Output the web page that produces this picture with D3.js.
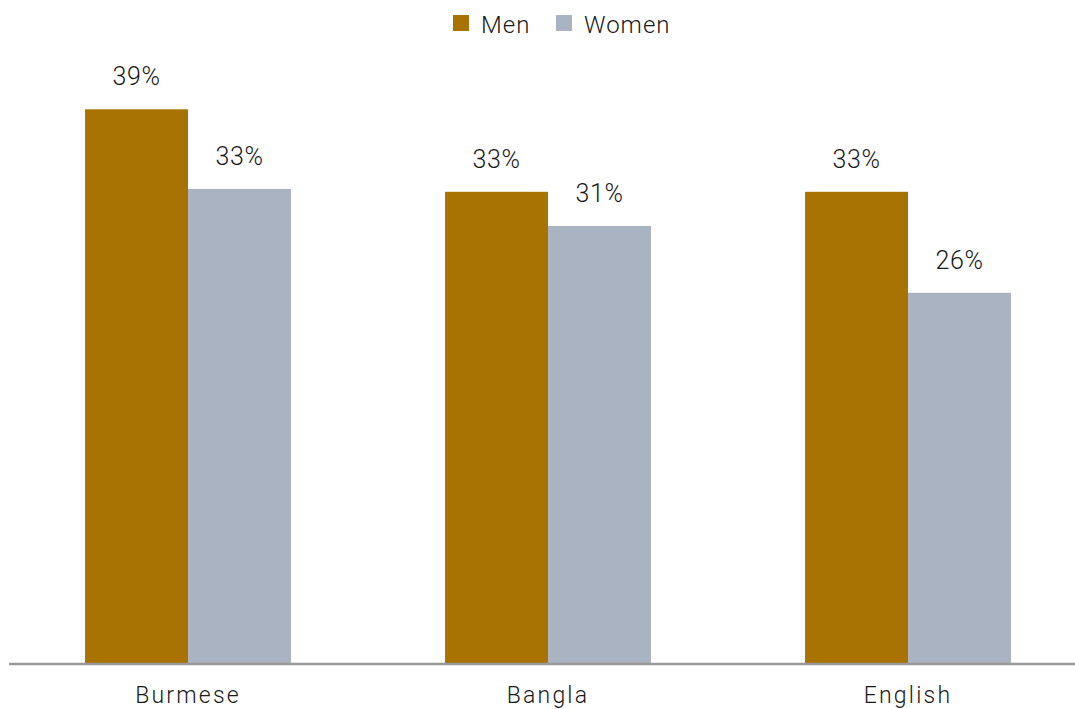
<!DOCTYPE html>
<html>
<head>
<meta charset="utf-8">
<script src="https://cdn.jsdelivr.net/npm/d3@7"></script>
<style>
  html, body { margin: 0; padding: 0; background: #ffffff; }
  svg { display: block; }
</style>
</head>
<body>
<div id="chart"></div>
<script>
// Share of respondents by language, split by gender
const categories = ["Burmese", "Bangla", "English"];
const seriesNames = ["Men", "Women"];
const menValues = [39.0, 33.2, 33.2];
const womenValues = [33.4, 30.8, 26.1];
const seriesColors = ["#a97304", "#aab3c2"];

const width = 1075, height = 709;
const baseline = 664;

const svg = d3.select("#chart").append("svg")
  .attr("width", width)
  .attr("height", height);

const rows = categories.map((c, i) => ({ category: c, values: [menValues[i], womenValues[i]] }));

const x0 = d3.scaleBand()
  .domain(categories)
  .range([8, 1088])
  .paddingInner(0.428)
  .paddingOuter(0.214);

const x1 = d3.scaleBand()
  .domain(seriesNames)
  .range([0, x0.bandwidth()])
  .padding(0);

const y = d3.scaleLinear()
  .domain([0, 45])
  .range([baseline, baseline - 45 * (554.7 / 39)]);

const fmt = v => Math.round(v) + "%";

const groups = svg.append("g").selectAll("g")
  .data(rows)
  .join("g")
  .attr("transform", d => `translate(${x0(d.category)},0)`);

groups.selectAll("rect")
  .data(d => d.values.map((v, i) => ({ key: seriesNames[i], value: v, i })))
  .join("rect")
  .attr("x", d => x1(d.key))
  .attr("y", d => y(d.value))
  .attr("width", x1.bandwidth())
  .attr("height", d => y(0) - y(d.value))
  .attr("fill", d => seriesColors[d.i]);

groups.selectAll("text.value")
  .data(d => d.values.map((v, i) => ({ key: seriesNames[i], value: v })))
  .join("text")
  .attr("class", "value")
  .attr("x", d => x1(d.key) + x1.bandwidth() / 2)
  .attr("y", d => y(d.value) - 24)
  .attr("text-anchor", "middle")
  .attr("font-family", "Roboto, sans-serif")
  .attr("font-weight", 300)
  .attr("font-size", 25)
  .attr("letter-spacing", 0.6)
  .attr("fill", "#1a1a1a")
  .text(d => fmt(d.value));

// baseline axis
const xAxis = d3.axisBottom(x0).tickSize(0).tickPadding(23);
const axisG = svg.append("g")
  .attr("transform", `translate(0,${baseline})`)
  .call(xAxis);
axisG.select(".domain")
  .attr("d", `M9,0H${width}`)
  .attr("stroke", "#999999")
  .attr("stroke-width", 2.5);
axisG.selectAll(".tick text")
  .attr("font-family", "Roboto, sans-serif")
  .attr("font-weight", 300)
  .attr("font-size", 23)
  .attr("letter-spacing", 2.2)
  .attr("fill", "#1a1a1a")
  .attr("dy", "0.71em");

// legend
const legendItems = [
  { name: "Men", color: seriesColors[0], x: 453 },
  { name: "Women", color: seriesColors[1], x: 556 }
];
const legend = svg.append("g");
const li = legend.selectAll("g")
  .data(legendItems)
  .join("g")
  .attr("transform", d => `translate(${d.x},15)`);
li.append("rect")
  .attr("width", 16)
  .attr("height", 16)
  .attr("fill", d => d.color);
li.append("text")
  .attr("x", 28)
  .attr("y", 18)
  .attr("font-family", "Roboto, sans-serif")
  .attr("font-weight", 300)
  .attr("font-size", 24)
  .attr("letter-spacing", 1)
  .attr("fill", "#1a1a1a")
  .text(d => d.name);
</script>
</body>
</html>
